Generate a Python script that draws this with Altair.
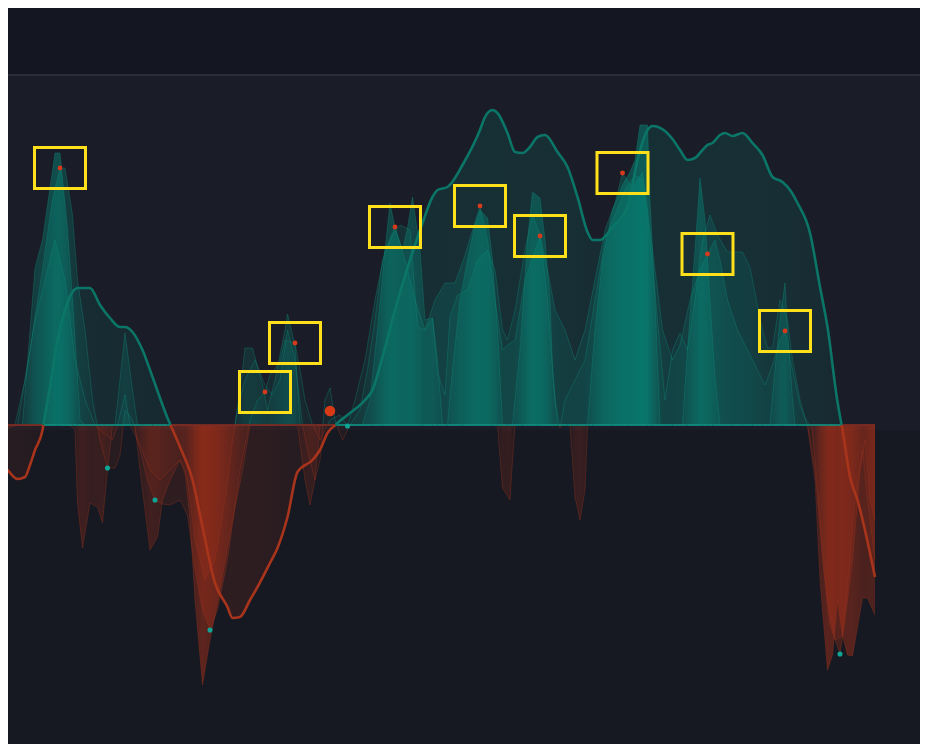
import altair as alt
import pandas as pd

# ---------------- data (t = time index, v = signal value) ----------------
ma_t = [0, 3, 7, 10, 12, 14, 17, 20, 23, 26, 29, 31, 36, 40, 44, 48, 50, 53, 57, 61,
        67, 72, 77, 81, 86, 91, 93, 96, 100, 103, 108, 111, 115, 119, 125, 128, 131, 135, 139, 146,
        149, 153, 158, 164, 169, 173, 175, 179, 185, 192, 194, 197, 199, 203, 206, 209, 212, 215, 218, 223,
        227, 231, 235, 237, 240, 245, 251, 255, 259, 261, 266, 269, 272, 275, 278, 281, 283, 285, 288, 290,
        293, 297, 301, 305, 309, 313, 316, 319, 324, 328, 331, 335, 337, 340, 343, 350]
ma_v = [-3.7, -4.5, -5.4, -5.2, -4.0, -2.5, -0.5, 3.8, 8.5, 11.5, 13.3, 13.7, 13.7, 12.0, 10.7, 9.8, 9.8, 9.3, 7.5, 4.8,
        0.7, -2.2, -5.5, -10.2, -15.8, -18.2, -19.3, -19.2, -17.5, -16.2, -13.8, -12.3, -9.2, -4.7, -3.5, -2.5, -0.8, 0.2, 1.0, 2.5,
        3.5, 6.8, 11.5, 16.5, 20.2, 22.8, 23.5, 23.8, 26.0, 29.5, 30.8, 31.5, 31.2, 29.2, 27.3, 27.2, 27.8, 28.8, 29.0, 27.3,
        25.8, 22.8, 19.3, 18.5, 18.5, 19.8, 21.8, 26.5, 29.5, 29.9, 29.4, 28.6, 27.5, 26.5, 26.7, 27.5, 28.0, 28.2, 29.0, 29.2,
        28.9, 29.2, 28.2, 27.0, 24.8, 24.3, 23.5, 22.2, 19.2, 13.8, 9.8, 2.3, -0.5, -5.2, -7.5, -15.2]

a_t = [0, 9, 14, 17, 22, 24, 27, 29, 32, 34, 46, 48, 50, 53, 55,
       94, 97, 98, 101, 105, 107, 110, 114, 115, 118, 120,
       145, 148, 151, 154, 156, 158, 161, 163, 165, 168, 170, 173, 175, 177,
       179, 181, 184, 187, 190, 192, 195, 197, 199, 201,
       205, 208, 211, 213, 216, 218, 220, 221, 223,
       235, 238, 241, 245, 249, 252, 254, 256, 259, 260, 262, 264,
       273, 275, 278, 280, 282, 284, 286, 288,
       308, 310, 312, 314, 315, 317, 318, 350]
a_v = [0, 0, 15.7, 18.5, 27.2, 27.2, 19.5, 12.5, 0.5, 0, 0, 4.5, 9.2, 3.5, 0,
       0, 5.5, 7.7, 7.7, 4.0, 1.5, 4.5, 9.5, 11.1, 8.0, 0,
       0, 2.5, 9.5, 17.5, 22.2, 19.7, 17.5, 19.7, 22.8, 17.5, 10.5, 10.7, 6.5, 0,
       0, 5.5, 12.5, 16.5, 20.0, 21.5, 20.7, 16.5, 9.5, 0,
       0, 7.5, 18.5, 23.3, 22.7, 18.5, 12.5, 5.5, 0,
       0, 9.5, 16.5, 21.5, 24.0, 25.3, 26.5, 30.0, 30.0, 22.5, 12.5, 0,
       0, 7.5, 17.5, 24.7, 20.5, 12.5, 4.5, 0,
       0, 5.5, 10.5, 14.2, 9.5, 2.5, 0, 0]

b_t = [0, 7, 12, 17, 21, 24, 26, 29, 31, 34, 37, 40, 43, 46, 48, 50, 53, 56, 59, 62,
       65, 68, 72, 75, 78, 81, 84, 87, 91, 96, 100, 103, 106, 108, 112, 114, 118, 120, 122, 125,
       128, 132, 136, 139, 142, 146, 150, 154, 158, 162, 166, 170, 174, 178, 182, 186, 192, 195, 198, 201,
       203, 206, 210, 216, 219, 222, 226, 230, 234, 238, 242, 246, 249, 253, 257, 259, 262, 265, 269, 272,
       276, 280, 283, 286, 288, 291, 295, 298, 302, 306, 309, 312, 314, 317, 320, 323, 326, 329, 332, 336,
       338, 341, 344, 346, 348, 350]
b_v = [-0.5, 0, 7.5, 15.5, 22.5, 25.7, 25.7, 21.0, 14.5, 9.5, 2.5, -1.5, -4.3, -4.3, -3.0, 1.5, 0.5, -2.5, -5.5, -7.5,
       -7.9, -8.0, -7.5, -9.0, -14.5, -18.5, -20.5, -18.5, -13.5, -4.5, 0.5, 2.5, 3.3, 5.0, 6.3, 8.5, 8.2, 5.5, 2.5, 0,
       -1.5, 0.5, 1.0, -0.1, 2.5, 6.5, 12.5, 17.5, 19.8, 16.5, 12.5, 9.5, 12.5, 14.2, 14.2, 17.0, 21.9, 18.5, 12.5, 7.5,
       8.0, 8.5, 14.5, 18.9, 15.5, 11.5, 9.5, 6.5, 9.5, 14.5, 19.5, 22.2, 25.2, 23.7, 25.3, 21.5, 15.5, 9.5, 6.5, 8.0,
       12.5, 15.5, 17.1, 18.5, 16.5, 12.5, 9.5, 8.0, 6.0, 4.0, 6.0, 8.5, 9.4, 5.5, 2.0, 0, -4.5, -13.5, -20.0, -22.9,
       -19.5, -13.5, -4.5, -1.5, -7.5, -9.5]

c_t = [0, 6, 10, 14, 18, 22, 26, 30, 34, 38, 40, 45, 47, 50, 52, 56, 60, 64, 68, 72,
       75, 78, 82, 86, 90, 93, 95, 98, 102, 106, 109, 112, 115, 118, 121, 124, 126, 128, 130, 132,
       134, 137, 140, 144, 147, 150, 153, 157, 160, 164, 167, 170, 173, 175, 178, 180, 183, 187, 191, 195,
       198, 201, 203, 206, 210, 213, 216, 219, 222, 224, 226, 230, 234, 238, 242, 246, 250, 254, 257, 260,
       263, 266, 269, 272, 275, 278, 281, 284, 287, 291, 297, 300, 302, 305, 307, 309, 312, 315, 317, 320,
       322, 325, 328, 331, 334, 337, 340, 342, 345, 347, 350]
c_v = [0, 0, 4.5, 10.5, 14.5, 18.5, 14.5, 6.5, 2.5, 0, -0.5, -1.5, 0, 3.0, 0, -2.0, -4.5, -5.5, -4.5, -3.5,
       -5.5, -11.5, -15.5, -13.5, -7.5, -1.5, 1.5, 4.5, 6.5, 4.0, 3.0, 4.5, 9.5, 6.5, 0, -3.5, -5.5, -3.5, 2.5, 3.7,
       0.5, -1.5, 0, 1.5, 5.5, 10.5, 16.5, 19.0, 20.0, 19.5, 9.8, 9.5, 10.7, 5.2, 3.0, 10.8, 13.0, 13.5, 16.5, 17.5,
       15.5, 9.5, 8.5, 11.5, 17.5, 21.0, 19.0, 12.5, 2.5, -0.3, 2.5, 4.5, 6.5, 12.5, 18.5, 21.0, 23.5, 25.0, 24.5, 18.5,
       10.5, 2.5, 7.5, 9.2, 7.5, 12.5, 18.5, 21.0, 19.0, 17.3, 17.3, 15.8, 13.2, 9.5, 7.7, 7.7, 12.5, 10.5, 6.5, 2.5,
       0.7, -0.5, -9.5, -17.5, -21.5, -21.1, -13.5, -7.5, -2.5, -7.5, -13.5]

d_t = [0, 28, 30, 31, 33, 36, 39, 41, 43, 45, 54, 56, 60, 63, 65, 68, 72, 74, 76, 78,
       81, 84, 88, 93, 97, 100, 119, 122, 124, 126, 128, 199, 201, 204, 205, 206,
       228, 230, 232, 234, 235, 323, 326, 328, 331, 333, 335, 337, 339, 341, 345, 347, 350]
d_v = [0, 0, -0.5, -7.8, -12.3, -7.8, -8.2, -9.8, -4.5, 0, 0, -4.5, -12.5, -11.2, -7.5, -5.5, -3.5, -4.5, -9.5, -17.5,
       -26.0, -21.5, -16.5, -9.5, -4.5, 0, 0, -5.5, -8.0, -5.5, 0, 0, -6.3, -7.5, -3.5, 0,
       0, -7.2, -9.5, -6.5, 0, 0, -5.5, -15.5, -24.5, -23.0, -17.5, -21.1, -23.0, -23.1, -17.3, -17.3, -19.0]

peak_t = [24, 106, 118, 158, 192, 216, 249, 283, 314]
peak_v = [25.7, 3.3, 8.2, 19.8, 21.9, 18.9, 25.2, 17.1, 9.4]
trough_t = [43, 62, 84, 139, 336]
trough_v = [-4.3, -7.5, -20.5, -0.1, -22.9]
signal_t = [132]
signal_v = [1.4]

for p, q in [(ma_t, ma_v), (a_t, a_v), (b_t, b_v), (c_t, c_v), (d_t, d_v)]:
    assert len(p) == len(q)

# ---------------- styling ----------------
W, H = 912, 736
TEAL = (0, 160, 140)
RED = (200, 52, 22)
TEAL_LINE = "#0b7668"
RED_LINE = "#a8341c"

xs = alt.Scale(domain=[0, 350], range=[-8, 867], nice=False, zero=False)
ys = alt.Scale(domain=[-31.9, 41.7], nice=False, zero=False)
X = alt.X("t:Q", scale=xs, axis=None)
Y = alt.Y("v:Q", scale=ys, axis=None)


def add_crossings(ts, vs):
    out_t, out_v = [float(ts[0])], [float(vs[0])]
    for i in range(1, len(ts)):
        t0, v0, t1, v1 = ts[i - 1], vs[i - 1], ts[i], vs[i]
        if v0 * v1 < 0:
            out_t.append(t0 + (t1 - t0) * v0 / (v0 - v1))
            out_v.append(0.0)
        out_t.append(float(t1))
        out_v.append(float(v1))
    return out_t, out_v


def area_layer(ts, vs, rgb, sign, base, k, interp="linear"):
    ct, cv = add_crossings(ts, vs)
    vals = [max(v, 0.0) if sign > 0 else min(v, 0.0) for v in cv]
    if not any(vals):
        return None
    span = ct[-1] - ct[0]
    stops = []
    for t, v in zip(ct, vals):
        a = min(0.95, base + k * abs(v) / 30.0)
        stops.append(alt.GradientStop(offset=round((t - ct[0]) / span, 5),
                                      color=f"rgba({rgb[0]},{rgb[1]},{rgb[2]},{a:.3f})"))
    grad = alt.LinearGradient(gradient="linear", stops=stops, x1=0, x2=1, y1=0, y2=0)
    df = pd.DataFrame({"t": ct, "v": vals, "z": [0.0] * len(ct)})
    return alt.Chart(df).mark_area(color=grad, interpolate=interp).encode(
        x=X, y=Y, y2=alt.Y2("z"))


def segment_frames(ts, vs):
    ct, cv = add_crossings(ts, vs)
    pos, neg = [], []
    cur, cur_s = [], 0
    groups = []
    for i in range(len(ct) - 1):
        v0, v1 = cv[i], cv[i + 1]
        m = v0 + v1
        s = 1 if m > 0 else (-1 if m < 0 else 0)
        if s != cur_s:
            if cur and cur_s != 0:
                groups.append((cur_s, cur))
            cur = [(ct[i], v0)]
            cur_s = s
        cur.append((ct[i + 1], v1))
    if cur and cur_s != 0:
        groups.append((cur_s, cur))
    for gid, (s, pts) in enumerate(groups):
        target = pos if s > 0 else neg
        for t, v in pts:
            target.append({"t": t, "v": v, "grp": f"g{gid}"})
    return pd.DataFrame(pos), pd.DataFrame(neg)


def line_layers(ts, vs, teal, red, width, opacity, interp="linear"):
    out = []
    p, n = segment_frames(ts, vs)
    for df, col in [(n, red), (p, teal)]:
        if len(df):
            out.append(alt.Chart(df).mark_line(color=col, strokeWidth=width, opacity=opacity,
                                                interpolate=interp).encode(
                x=X, y=Y, detail="grp:N"))
    return out


one = pd.DataFrame({"k": [0]})

header_line = alt.Chart(one).mark_rule(color="#2a2d38", strokeWidth=2).encode(
    x=alt.value(0), x2=alt.value(W), y=alt.value(67))
plot_bg_top = alt.Chart(one).mark_rect(color="#1a1d27").encode(
    x=alt.value(0), x2=alt.value(W), y=alt.value(68), y2=alt.value(422))
plot_bg_bot = alt.Chart(one).mark_rect(color="#161922").encode(
    x=alt.value(0), x2=alt.value(W), y=alt.value(422), y2=alt.value(H))

layers = [plot_bg_top, plot_bg_bot, header_line]

# filled areas
specs = [
    (ma_t, ma_v, 0.09, 0.05, 0.07, 0.10, "monotone"),
    (c_t, c_v, 0.05, 0.15, 0.05, 0.15, "linear"),
    (b_t, b_v, 0.06, 0.22, 0.07, 0.25, "linear"),
    (a_t, a_v, 0.08, 0.32, 0.08, 0.32, "linear"),
    (d_t, d_v, 0.08, 0.32, 0.08, 0.38, "linear"),
]
for ts, vs, pb, pk, nb, nk, ip in specs:
    for sign, rgb, base, k in [(1, TEAL, pb, pk), (-1, RED, nb, nk)]:
        lay = area_layer(ts, vs, rgb, sign, base, k, ip)
        if lay is not None:
            layers.append(lay)

# outlines of the jagged series
for ts, vs in [(c_t, c_v), (b_t, b_v), (a_t, a_v), (d_t, d_v)]:
    layers += line_layers(ts, vs, "#0d8c7c", "#a0341c", 1, 0.35)

# baseline coloured by the sign of the moving average
ct, cv = add_crossings(ma_t, ma_v)
base_rows = []
for i in range(len(ct) - 1):
    m = cv[i] + cv[i + 1]
    base_rows.append({"t": ct[i], "t2": ct[i + 1], "z": 0.0, "sgn": "pos" if m >= 0 else "neg"})
base_df = pd.DataFrame(base_rows)
layers.append(alt.Chart(base_df[base_df.sgn == "pos"].reset_index(drop=True)).mark_rule(
    color="#0f8f80", strokeWidth=2, opacity=0.85).encode(x=X, x2=alt.X2("t2"), y=alt.Y("z:Q", scale=ys, axis=None)))
layers.append(alt.Chart(base_df[base_df.sgn == "neg"].reset_index(drop=True)).mark_rule(
    color="#7d2c22", strokeWidth=2, opacity=0.9).encode(x=X, x2=alt.X2("t2"), y=alt.Y("z:Q", scale=ys, axis=None)))

# moving-average line
layers += line_layers(ma_t, ma_v, TEAL_LINE, RED_LINE, 2.6, 1.0, "monotone")

# annotations
peaks = pd.DataFrame({"t": peak_t, "v": peak_v})
troughs = pd.DataFrame({"t": trough_t, "v": trough_v})
signal = pd.DataFrame({"t": signal_t, "v": signal_v})

boxes = alt.Chart(peaks).mark_point(shape="M-1,-0.804L1,-0.804L1,0.804L-1,0.804Z", size=2601, filled=False,
                                    color="#ffe01a", strokeWidth=3, opacity=1).encode(x=X, y=Y)
peak_dots = alt.Chart(peaks).mark_circle(size=24, color="#d63a1c", opacity=1).encode(x=X, y=Y)
trough_dots = alt.Chart(troughs).mark_circle(size=26, color="#0ea594", opacity=1).encode(x=X, y=Y)
signal_dot = alt.Chart(signal).mark_circle(size=110, color="#d93a16", opacity=1).encode(x=X, y=Y)

layers += [boxes, peak_dots, trough_dots, signal_dot]

chart = alt.layer(*layers).properties(
    width=W, height=H,
    autosize=alt.AutoSizeParams(type="none"),
    padding=0,
    background="#141721",
).configure_view(stroke=None)

chart.save("out.html", embed_options={"renderer": "svg", "actions": False})
